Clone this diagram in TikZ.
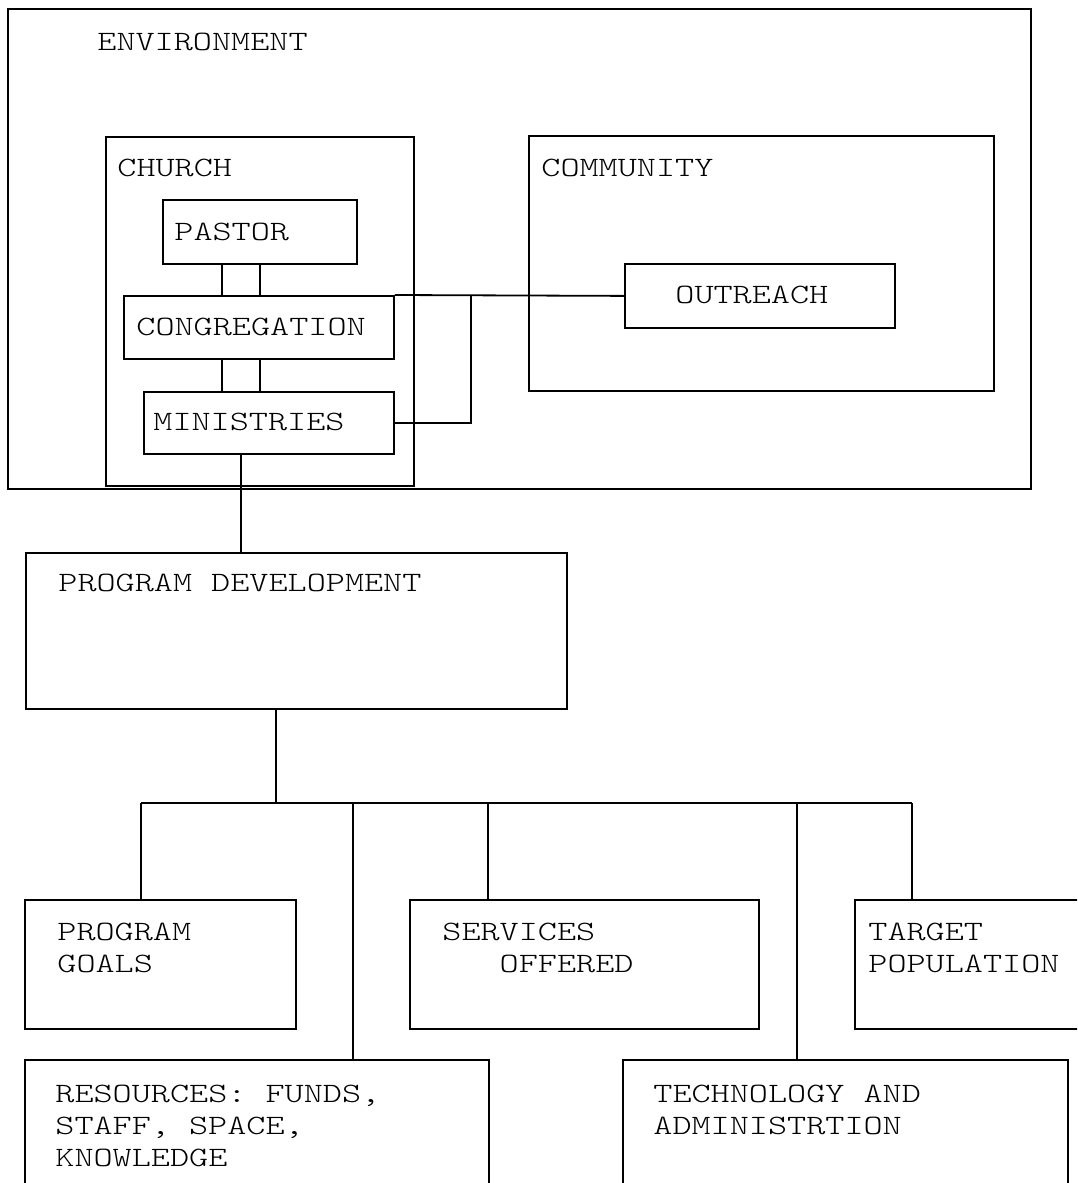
\documentclass[tikz,border=0pt]{standalone}
\usepackage{fontspec}
\setmonofont{Latin Modern Mono Light}[FakeStretch=1.3]
\usepackage{tikz}

\tikzset{
  box/.style={draw, line width=0.9pt, inner sep=0pt, anchor=north west},
  txt/.style={inner sep=0pt, anchor=north west, align=left,
    font=\ttfamily\fontsize{14}{16}\selectfont},
  link/.style={line width=0.9pt}
}

\begin{document}
\begin{tikzpicture}[x=0.5pt, y=-0.5pt]
        \clip (0,0) rectangle (1077,1183);

        % upper part
        \node[box, minimum width=511.5pt, minimum height=240pt] (env) at (7,8) {};
        \node[box, minimum width=154pt, minimum height=174.5pt] (church) at (105,136) {};
        \node[box, minimum width=232.5pt, minimum height=127.5pt] (community) at (528,135) {};
        \node[box, minimum width=97pt, minimum height=32pt] (pastor) at (162,199) {};
        \node[box, minimum width=135pt, minimum height=31.5pt] (congr) at (123,295) {};
        \node[box, minimum width=125pt, minimum height=31pt] (minis) at (143,391) {};
        \node[box, minimum width=135pt, minimum height=32pt] (outreach) at (624,263) {};

        \node[txt] (env-t) at (97,33) {ENVIRONMENT};
        \node[txt] (church-t) at (117,159) {CHURCH};
        \node[txt] (community-t) at (541,159) {COMMUNITY};
        \node[txt] (pastor-t) at (174,223) {PASTOR};
        \node[txt] (congr-t) at (136,318) {CONGREGATION};
        \node[txt] (minis-t) at (153,413) {MINISTRIES};
        \node[txt] (outreach-t) at (675,286) {OUTREACH};

        \draw[link] (pastor.south) -- (pastor.south |- congr.north);
        \draw[link] ([shift={(-38,0)}]pastor.south) coordinate (pl) -- (pl |- congr.north);
        \draw[link] (congr.south -| pastor.south) -- (minis.north -| pastor.south);
        \draw[link] (congr.south -| pl) -- (minis.north -| pl);
        \draw[link] (congr.north east) -- (outreach.west);
        \coordinate (tap) at (471,295);
        \draw[link] (minis.east) -| (tap);

        % program development
        \node[box, minimum width=270.5pt, minimum height=78pt] (progdev) at (25,552) {};
        \node[txt] (progdev-t) at (58,574) {PROGRAM DEVELOPMENT};
        \draw[link] ([shift={(-28,0)}]minis.south) coordinate (md) -- (md |- progdev.north);

        % lower part
        \node[box, minimum width=135.5pt, minimum height=64.5pt] (goals) at (24,899) {};
        \node[box, minimum width=174.5pt, minimum height=64.5pt] (services) at (409,899) {};
        \node[box, minimum width=123pt, minimum height=64.5pt] (target) at (854,899) {};
        \node[box, minimum width=232pt, minimum height=75.5pt] (resources) at (24,1059) {};
        \node[box, minimum width=222.5pt, minimum height=75.5pt] (tech) at (622,1059) {};

        \node[txt] (goals-t) at (57,923) {PROGRAM\\GOALS};
        \node[txt] (services-t) at (442,923) {SERVICES\\\phantom{OFF}OFFERED};
        \node[txt] (target-t) at (868,923) {TARGET\\POPULATION};
        \node[txt] (resources-t) at (55,1085) {RESOURCES: FUNDS,\\STAFF, SPACE,\\KNOWLEDGE};
        \node[txt] (tech-t) at (653,1085) {TECHNOLOGY AND\\ADMINISTRTION};

        \coordinate (bus) at (276,803);
        \coordinate (b1) at (141,803);
        \coordinate (b2) at (353,803);
        \coordinate (b3) at (488,803);
        \coordinate (b4) at (797,803);
        \coordinate (b5) at (912,803);
        \draw[link] (bus |- progdev.south) -- (bus);
        \draw[link] (b1) -- (b5);
        \draw[link] (b1) -- (b1 |- goals.north);
        \draw[link] (b2) -- (b2 |- resources.north);
        \draw[link] (b3) -- (b3 |- services.north);
        \draw[link] (b4) -- (b4 |- tech.north);
        \draw[link] (b5) -- (b5 |- target.north);
    \end{tikzpicture}
\end{document}
